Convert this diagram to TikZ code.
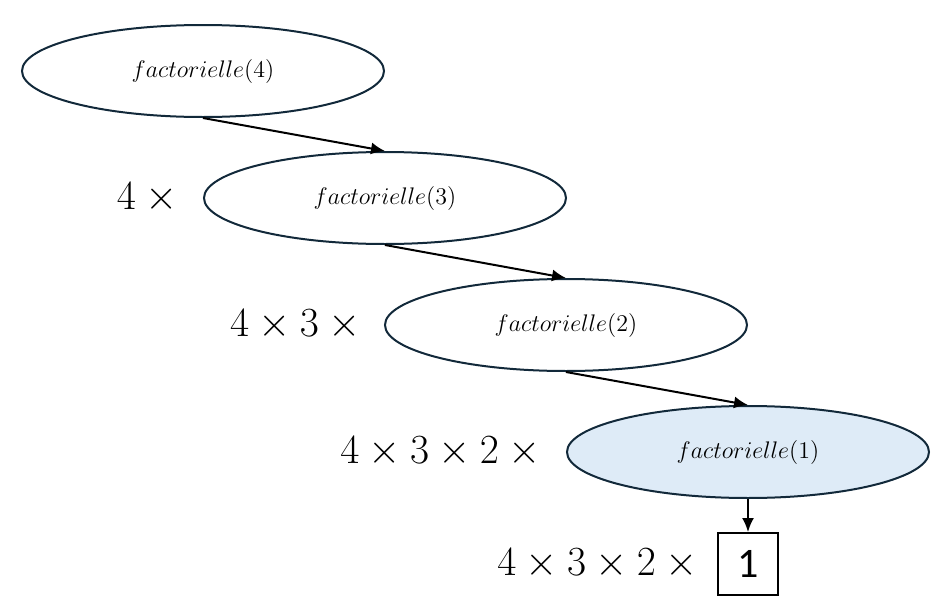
\documentclass[tikz,border=0pt]{standalone}
\usepackage{amsmath}
\usepackage{fontspec}
\usetikzlibrary{positioning,arrows.meta,shapes.geometric}

\newfontfamily\boxfont{Carlito}
\definecolor{ellborder}{HTML}{12293A}
\definecolor{lastfill}{HTML}{DEEBF7}

\tikzset{
	callnode/.style={ellipse, draw=ellborder, line width=1pt, inner sep=0pt,
		minimum width=181pt, minimum height=46pt, font=\fontsize{13}{15}\selectfont},
	prodlabel/.style={inner sep=0pt, font=\fontsize{21}{25}\selectfont},
	callarrow/.style={-{Latex[length=7pt,width=6pt]}, line width=1pt},
}

\begin{document}
\begin{tikzpicture}[x=0.5pt, y=-0.5pt]

	% ---- frame

	\useasboundingbox (0,0) rectangle (934,616);

	% ---- calls

	\node[callnode] (f4) at (203,71) {$factorielle(4)$};
	\node[callnode] (f3) at (385,198) {$factorielle(3)$};
	\node[callnode] (f2) at (566,325) {$factorielle(2)$};
	\node[callnode, fill=lastfill] (f1) at (748,452) {$factorielle(1)$};

	% ---- result

	\node[draw, line width=1pt, minimum width=30pt, minimum height=31pt, inner sep=0pt,
		font=\fontsize{21}{25}\boxfont] (res) at (748,564) {1};

	% ---- products

	\node[prodlabel, left=8pt of f3] (p3) {$4\times{}$};
	\node[prodlabel, left=7pt of f2] (p2) {$4\times3\times{}$};
	\node[prodlabel, left=8pt of f1] (p1) {$4\times3\times2\times{}$};
	\node[prodlabel, left=5pt of res] (p0) {$4\times3\times2\times{}$};

	% ---- arrows

	\draw[callarrow] (f4.south) -- (f3.north);
	\draw[callarrow] (f3.south) -- (f2.north);
	\draw[callarrow] (f2.south) -- (f1.north);
	\draw[callarrow] (f1.south) -- (res.north);

\end{tikzpicture}
\end{document}
